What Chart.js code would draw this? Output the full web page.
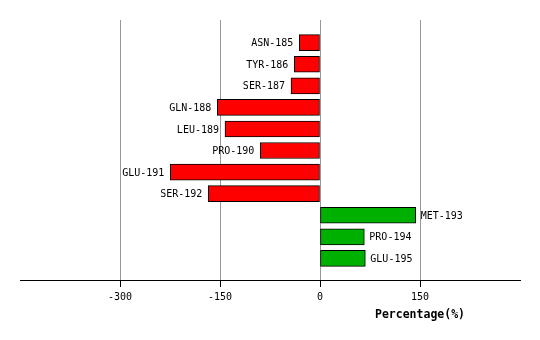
<!DOCTYPE html>
<html>
<head>
<meta charset="utf-8">
<script src="https://cdn.jsdelivr.net/npm/chart.js@4/dist/chart.umd.min.js"></script>
<style>
html,body{margin:0;padding:0;background:#fff;}
#wrap{width:540px;height:340px;}
</style>
</head>
<body>
<div id="wrap"><canvas id="c" width="540" height="340"></canvas></div>
<script>
const residues = ['ASN-185','TYR-186','SER-187','GLN-188','LEU-189','PRO-190','GLU-191','SER-192','MET-193','PRO-194','GLU-195'];
const percentages = [-31, -38.5, -43.5, -154, -142.5, -89.5, -224.5, -167.5, 143.5, 66.5, 68];
const xTicks = [-300, -150, 0, 150];
const axisTitle = 'Percentage(%)';

const MONO = '"DejaVu Sans Mono", "Liberation Mono", monospace';

const points = percentages.map((v, i) => ({ x: v, y: i }));

const barLabels = {
  id: 'barLabels',
  afterDatasetsDraw(chart) {
    const ctx = chart.ctx;
    const meta = chart.getDatasetMeta(0);
    ctx.save();
    ctx.font = '10px ' + MONO;
    ctx.fillStyle = '#000';
    ctx.textBaseline = 'middle';
    meta.data.forEach((el, i) => {
      const v = percentages[i];
      if (v < 0) { ctx.textAlign = 'right'; ctx.fillText(residues[i], el.x - 6, el.y + 1); }
      else { ctx.textAlign = 'left'; ctx.fillText(residues[i], el.x + 5, el.y + 1); }
    });
    ctx.restore();
  }
};

const titlePlugin = {
  id: 'axisTitle',
  afterDraw(chart) {
    const ctx = chart.ctx;
    const xs = chart.scales.x;
    ctx.save();
    ctx.font = 'bold 11.5px ' + MONO;
    ctx.fillStyle = '#000';
    ctx.textAlign = 'center';
    ctx.textBaseline = 'middle';
    ctx.fillText(axisTitle, xs.getPixelForValue(150), 315);
    ctx.restore();
  }
};

new Chart(document.getElementById('c'), {
  type: 'bar',
  data: {
    datasets: [{
      data: points,
      backgroundColor: percentages.map(v => v < 0 ? '#ff0000' : '#00b000'),
      borderColor: '#000',
      borderWidth: 1,
      borderSkipped: false,
      barThickness: 16
    }]
  },
  options: {
    indexAxis: 'y',
    responsive: false,
    animation: false,
    devicePixelRatio: 1,
    layout: { padding: { left: 20, right: 20, top: 20, bottom: 0 } },
    plugins: { legend: { display: false }, tooltip: { enabled: false } },
    scales: {
      y: {
        type: 'linear',
        display: false,
        reverse: true,
        offset: false,
        bounds: 'data',
        grace: 0,
        min: -1.05,
        max: 11,
        grid: { offset: false }
      },
      x: {
        type: 'linear',
        min: -450,
        max: 300,
        afterBuildTicks(scale) {
          scale.ticks = [-450].concat(xTicks, [300]).map(v => ({ value: v }));
        },
        afterFit(scale) { scale.height = 60; },
        ticks: {
          font: { family: MONO, size: 10 },
          color: '#000',
          padding: 4,
          maxRotation: 0,
          autoSkip: false,
          callback: (v) => xTicks.includes(v) ? String(v) : ''
        },
        grid: {
          color: (c) => xTicks.includes(c.tick && c.tick.value) ? '#999999' : 'rgba(0,0,0,0)',
          tickColor: (c) => xTicks.includes(c.tick && c.tick.value) ? '#000' : 'rgba(0,0,0,0)',
          tickLength: 7,
          lineWidth: 1
        },
        border: { display: true, color: '#000', width: 1 }
      }
    }
  },
  plugins: [barLabels, titlePlugin]
});
</script>
</body>
</html>
